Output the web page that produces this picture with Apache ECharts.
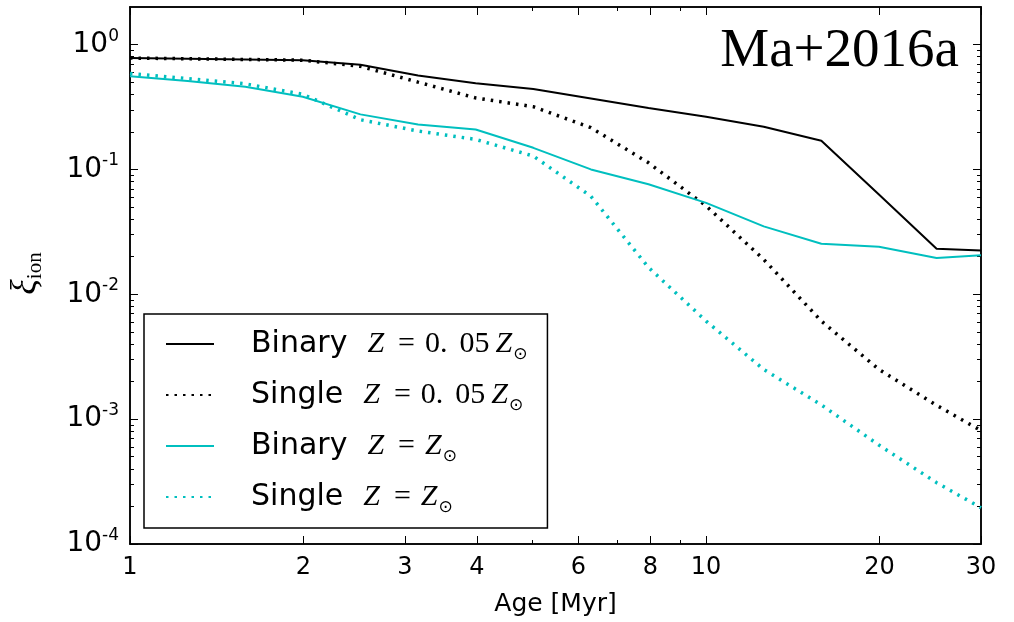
<!DOCTYPE html>
<html><head><meta charset="utf-8">
<script src="https://cdn.jsdelivr.net/npm/echarts@6/dist/echarts.min.js"></script>
<style>html,body{margin:0;padding:0;background:#fff}#c{width:1014px;height:622px}</style>
</head><body><div id="c"></div>
<script>
// Ages (Myr) on the BPASS log grid
const ages = [1, 1.259, 1.585, 1.995, 2.512, 3.162, 3.981, 5.012, 6.310, 7.943, 10, 12.59, 15.85, 19.95, 25.12, 30];
const binaryLowZ   = [0.78, 0.77, 0.76, 0.75, 0.69, 0.565, 0.49, 0.44, 0.37, 0.31, 0.264, 0.22, 0.17, 0.063, 0.0232, 0.0224];
const singleLowZ   = [0.78, 0.77, 0.76, 0.75, 0.67, 0.50, 0.374, 0.318, 0.216, 0.113, 0.051, 0.019, 0.0061, 0.0025, 0.00129, 0.00081];
const binarySolarZ = [0.558, 0.51, 0.46, 0.382, 0.276, 0.229, 0.209, 0.149, 0.10, 0.076, 0.054, 0.035, 0.0254, 0.024, 0.0195, 0.0205];
const singleSolarZ = [0.586, 0.535, 0.485, 0.40, 0.25, 0.203, 0.174, 0.128, 0.061, 0.0164, 0.0061, 0.0025, 0.0013, 0.00062, 0.00031, 0.000195];

const seriesNames = ['Binary lowZ', 'Single lowZ', 'Binary solarZ', 'Single solarZ'];
const legendLabels = {
  'Binary lowZ':   ['Binary', ['0.', '05']],
  'Single lowZ':   ['Single', ['0.', '05']],
  'Binary solarZ': ['Binary', null],
  'Single solarZ': ['Single', null]
};

const xMajorTicks = [1, 2, 3, 4, 6, 8, 10, 20, 30];
const xMinorTicks = [5, 7, 9];
const yMajorTicks = [1e-4, 1e-3, 1e-2, 1e-1, 1];
const yMinorTicks = [2e-4,3e-4,4e-4,5e-4,6e-4,7e-4,8e-4,9e-4,
                     2e-3,3e-3,4e-3,5e-3,6e-3,7e-3,8e-3,9e-3,
                     2e-2,3e-2,4e-2,5e-2,6e-2,7e-2,8e-2,9e-2,
                     0.2,0.3,0.4,0.5,0.6,0.7,0.8,0.9];

const SANS = 'DejaVu Sans';
const SERIF = 'Liberation Serif';
const CYAN = '#00BFBF';

function pairs(vals){ return ages.map((a,i)=>[a, vals[i]]); }

function xAxisCfg(pos, major, labels){
  return {
    type:'log', logBase:10, min:1, max:30, position:pos,
    axisLine:{show:true, onZero:false, lineStyle:{color:'#000', width:1.5}},
    axisTick:{show:true, inside:true, length: major?8:4, lineStyle:{color:'#000', width:1},
              customValues: major ? xMajorTicks : xMinorTicks},
    axisLabel:{show:labels, customValues:xMajorTicks, margin:12, color:'#000',
               fontFamily:SANS, fontSize:24, formatter:v=>String(Math.round(v))},
    splitLine:{show:false}, minorTick:{show:false},
    name: labels ? 'Age [Myr]' : '', nameLocation:'middle', nameGap:48,
    nameTextStyle:{fontFamily:SANS, fontSize:25, color:'#000'}
  };
}
function yAxisCfg(pos, major, labels){
  return {
    type:'log', logBase:10, min:1e-4, max:2, position:pos,
    axisLine:{show:true, onZero:false, lineStyle:{color:'#000', width:1.5}},
    axisTick:{show:true, inside:true, length: major?8:4, lineStyle:{color:'#000', width:1},
              customValues: major ? yMajorTicks : yMinorTicks},
    axisLabel:{show:labels, customValues:yMajorTicks, margin:11, color:'#000',
               formatter:v=>'{b|10}{s|' + Math.round(Math.log10(v)) + '}',
               rich:{b:{fontFamily:SANS, fontSize:28, lineHeight:34, color:'#000'},
                     s:{fontFamily:SANS, fontSize:17, verticalAlign:'top', color:'#000'}}},
    splitLine:{show:false}, minorTick:{show:false},
    name: labels ? '{x|ξ}{sub|ion}' : '', nameLocation:'middle', nameGap:84, nameRotate:90,
    nameTextStyle:{padding:[0,0,0,4],
                   rich:{x:{fontFamily:SERIF, fontStyle:'italic', fontSize:36, lineHeight:40, color:'#000'},
                         sub:{fontFamily:SERIF, fontSize:21, verticalAlign:'bottom', color:'#000'}}}
  };
}

function lineSeries(name, vals, color, dotted){
  return {
    name, type:'line', data:pairs(vals), xAxisIndex:0, yAxisIndex:0,
    symbol:'none', showSymbol:false, clip:true,
    lineStyle: dotted ? {color, width:3.5, type:[2.5,6], cap:'butt'} : {color, width:2},
    itemStyle:{color}
  };
}

const mathTok = {fontFamily:SERIF, fontSize:30, color:'#000', verticalAlign:'bottom', lineHeight:30};

const chart = echarts.init(document.getElementById('c'), null, {renderer:'canvas'});
chart.setOption({
  animation:false,
  backgroundColor:'#fff',
  grid:{left:127, right:33, top:7, bottom:76, containLabel:false},
  xAxis:[xAxisCfg('bottom', true, true), xAxisCfg('bottom', false, false),
         xAxisCfg('top', true, false), xAxisCfg('top', false, false)],
  yAxis:[yAxisCfg('left', true, true), yAxisCfg('left', false, false),
         yAxisCfg('right', true, false), yAxisCfg('right', false, false)],
  legend:{
    show:true, orient:'vertical', left:144, top:314,
    data:seriesNames, itemWidth:48, itemHeight:14, itemGap:17,
    padding:[15, 20, 12, 21], borderColor:'#000', borderWidth:1.5, backgroundColor:'#fff',
    selectedMode:false,
    itemStyle:{opacity:0},
    formatter: n => {
      const [w, f] = legendLabels[n];
      return '{t|' + w + '}{m|Z}{e|=}' + (f ? '{r|' + f[0] + '}{r2|' + f[1] + '}' : '') + '{m|Z}{sub|⊙}';
    },
    textStyle:{
      rich:{
        t:{fontFamily:SANS, fontSize:30, color:'#000', padding:[0,20,0,32], lineHeight:30},
        m:Object.assign({}, mathTok, {fontStyle:'italic'}),
        e:Object.assign({}, mathTok, {padding:[0,10,0,14]}),
        r:Object.assign({}, mathTok, {padding:[0,12,0,0]}),
        r2:Object.assign({}, mathTok, {padding:[0,6,0,0]}),
        sub:{fontFamily:SANS, fontSize:17, color:'#000', verticalAlign:'bottom', padding:[0,0,-4,1]}
      }
    }
  },
  graphic:[{type:'text', right:55, top:24, z:10,
            style:{text:'Ma+2016a', font:'55px "Liberation Serif"', fill:'#000'}}],
  series:[
    lineSeries(seriesNames[0], binaryLowZ, '#000', false),
    lineSeries(seriesNames[1], singleLowZ, '#000', true),
    lineSeries(seriesNames[2], binarySolarZ, CYAN, false),
    lineSeries(seriesNames[3], singleSolarZ, CYAN, true)
  ]
});
</script></body></html>
